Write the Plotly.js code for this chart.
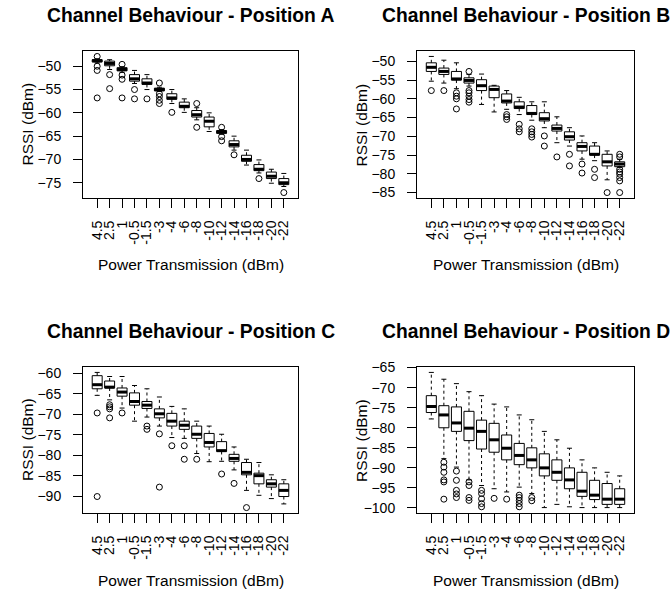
<!DOCTYPE html>
<html>
<head>
<meta charset="utf-8">
<script src="https://cdn.plot.ly/plotly-3.0.1.min.js"></script>
<style>html,body{margin:0;padding:0;background:#fff;}#chart{width:670px;height:593px;}</style>
</head>
<body>
<div id="chart"></div>
<script>
// Power transmission levels (dBm), categories on the x axis
const categories = ["4.5","2.5","1","-0.5","-1.5","-3","-4","-6","-8","-10","-12","-14","-16","-18","-20","-22"];
const panelTitles = ["Channel Behaviour - Position A","Channel Behaviour - Position B","Channel Behaviour - Position C","Channel Behaviour - Position D"];

// Position A
const A_q1  = [-49.1,-49.9,-51.0,-53.2,-53.9,-55.3,-57.1,-58.9,-60.9,-63.0,-64.4,-67.3,-70.4,-72.4,-74.1,-75.4];
const A_med = [-48.8,-49.4,-50.7,-52.7,-53.6,-55.0,-56.8,-58.6,-60.4,-61.8,-64.1,-66.8,-70.0,-72.1,-73.6,-75.0];
const A_q3  = [-48.6,-48.9,-50.3,-51.8,-52.7,-54.7,-55.9,-57.7,-59.5,-60.9,-63.8,-66.0,-69.1,-71.1,-72.7,-74.1];
const A_lo  = [-49.3,-50.7,-51.3,-53.7,-55.0,-55.4,-58.0,-59.9,-61.5,-64.0,-64.6,-68.0,-71.2,-72.9,-75.1,-75.8];
const A_hi  = [-48.4,-48.6,-50.1,-50.9,-51.8,-54.5,-55.0,-57.0,-58.9,-60.0,-63.6,-65.0,-68.0,-70.1,-72.1,-73.0];
const A_out = [[-47.9,-50.0,-50.9,-56.8],[-51.8,-54.8],[-49.6,-51.9,-52.8,-56.8],[-55.0,-57.0],[-57.0],
               [-53.6,-55.9,-56.5,-57.3,-58.0],[-59.9],[],[-58.0,-63.1],[],[-63.1,-65.1,-66.0],[-69.0],[],[-74.1],[],[-77.1]];

// Position B
const B_q1  = [-52.7,-53.5,-55.0,-55.8,-57.8,-59.7,-61.1,-62.6,-64.2,-65.9,-68.6,-71.0,-73.9,-75.0,-77.9,-78.1];
const B_med = [-51.6,-52.7,-54.7,-55.1,-56.5,-57.5,-60.6,-62.2,-63.9,-65.3,-67.9,-70.1,-72.7,-74.8,-76.8,-77.4];
const B_q3  = [-50.4,-51.8,-52.7,-54.4,-54.9,-56.6,-58.7,-60.8,-61.8,-63.7,-67.0,-68.8,-71.7,-72.6,-74.8,-76.8];
const B_lo  = [-55.3,-55.8,-57.3,-56.6,-61.5,-63.5,-62.8,-64.2,-65.7,-67.7,-71.7,-72.6,-76.1,-76.5,-81.6,-78.3];
const B_hi  = [-48.7,-49.7,-50.4,-53.5,-53.4,-56.4,-57.8,-59.6,-60.8,-60.8,-64.8,-67.7,-69.9,-71.7,-73.9,-76.1];
const B_out = [[-57.8],[-57.8],[-58.4,-59.3,-60.0,-62.7],[-52.7,-57.8,-58.4,-59.3,-60.2,-60.9],[],[],
               [-64.2,-64.8,-65.5],[-66.8,-68.0,-68.8],[-68.0,-68.8,-69.5,-70.2],[-69.9,-72.6],[-75.5],
               [-74.8,-77.9],[-77.4,-79.8],[-78.8,-81.0],[-85.0],[-74.8,-75.5,-78.8,-79.5,-80.1,-81.0,-81.9,-85.0]];

// Position C
const C_q1  = [-63.8,-63.6,-65.6,-67.8,-68.6,-70.9,-72.9,-73.7,-75.9,-78.0,-79.1,-81.5,-84.8,-87.0,-87.8,-90.1];
const C_med = [-62.8,-63.4,-64.6,-66.9,-67.8,-69.9,-71.7,-72.7,-74.9,-76.9,-78.9,-80.8,-84.2,-85.0,-87.0,-88.6];
const C_q3  = [-60.6,-61.9,-63.6,-64.8,-66.9,-68.7,-69.8,-71.7,-72.9,-74.7,-76.7,-79.8,-81.8,-84.4,-86.0,-87.0];
const C_lo  = [-65.4,-66.5,-68.5,-71.7,-70.7,-72.9,-75.7,-75.9,-79.6,-81.6,-81.5,-83.6,-88.6,-89.8,-90.6,-91.9];
const C_hi  = [-59.8,-60.8,-60.8,-63.0,-63.8,-65.8,-68.1,-68.7,-71.7,-72.9,-74.9,-78.0,-81.0,-81.8,-84.8,-86.0];
const C_out = [[-69.7,-90.1],[-67.7,-68.2,-68.7,-70.9],[-69.7],[],[-72.9,-73.7],[-74.8,-87.8],[-77.7],
               [-77.7,-81.0],[-81.0],[],[-84.6],[-86.9],[-92.8],[],[],[]];

// Position D
const D_q1  = [-76.2,-80.0,-80.9,-83.2,-85.3,-86.1,-88.0,-89.2,-90.0,-92.0,-93.1,-95.2,-97.1,-97.9,-99.1,-99.1];
const D_med = [-74.7,-76.8,-78.8,-80.1,-80.9,-83.0,-85.1,-86.9,-88.0,-90.0,-91.1,-93.0,-95.8,-96.8,-97.8,-97.8];
const D_q3  = [-72.0,-74.5,-74.8,-75.9,-78.1,-78.9,-81.8,-83.9,-85.0,-86.5,-88.0,-90.0,-91.1,-93.1,-93.9,-95.2];
const D_lo  = [-77.8,-87.7,-89.8,-93.0,-94.4,-95.2,-96.0,-94.8,-96.4,-99.9,-99.1,-99.7,-99.9,-99.9,-99.9,-99.9];
const D_hi  = [-66.2,-67.9,-69.0,-71.0,-72.0,-74.1,-74.8,-76.8,-78.0,-80.9,-83.0,-85.1,-88.0,-90.0,-91.1,-92.0];
const D_out = [[],[-88.6,-89.8,-91.1,-93.0,-93.5,-97.8],[-90.8,-93.1,-95.6,-96.5,-97.4],[-93.5,-94.4,-97.4,-98.1],
               [-95.6,-96.4,-97.7,-98.9,-99.7],[-97.6],[-97.8],[-96.8,-97.4,-98.1,-98.9,-99.7],[-97.4,-98.2],
               [],[],[],[],[],[],[]];

const panels = [
  {q1:A_q1, med:A_med, q3:A_q3, lo:A_lo, hi:A_hi, out:A_out},
  {q1:B_q1, med:B_med, q3:B_q3, lo:B_lo, hi:B_hi, out:B_out},
  {q1:C_q1, med:C_med, q3:C_q3, lo:C_lo, hi:C_hi, out:C_out},
  {q1:D_q1, med:D_med, q3:D_q3, lo:D_lo, hi:D_hi, out:D_out}
];

const W = 670, H = 593;
// plot-region pixel boxes [left, right, top, bottom]
const boxes = [[83,298,51,198],[417,634,51,198],[83,298,367,513],[417,634,367,513]];
const FONT = "Liberation Sans, Arial, sans-serif";

const traces = [];
const layout = {
  width: W, height: H, margin:{l:0,r:0,t:0,b:0},
  paper_bgcolor:"#fff", plot_bgcolor:"#fff", showlegend:false,
  font:{family:FONT, color:"#000", size:14},
  annotations: []
};

const idx = categories.map((c,i)=>i+1);

panels.forEach((p, k) => {
  const n = k + 1;
  const xa = n === 1 ? "x" : "x" + n;
  const ya = n === 1 ? "y" : "y" + n;
  const b = boxes[k];

  const wx = [], wy = [], sx = [], sy = [], mx = [], my = [];
  idx.forEach((x, i) => {
    wx.push(x, x, null, x, x, null);
    wy.push(p.q3[i], p.hi[i], null, p.q1[i], p.lo[i], null);
    sx.push(x-0.2, x+0.2, null, x-0.2, x+0.2, null);
    sy.push(p.hi[i], p.hi[i], null, p.lo[i], p.lo[i], null);
    mx.push(x-0.4, x+0.4, null);
    my.push(p.med[i], p.med[i], null);
  });
  // dashed whiskers
  traces.push({type:"scatter", mode:"lines", x:wx, y:wy, xaxis:xa, yaxis:ya,
    line:{color:"#000", width:1, dash:"3px,3px"}, hoverinfo:"skip", connectgaps:false});
  // staples
  traces.push({type:"scatter", mode:"lines", x:sx, y:sy, xaxis:xa, yaxis:ya,
    line:{color:"#000", width:1}, hoverinfo:"skip", connectgaps:false});
  // boxes
  traces.push({type:"box", x:idx, q1:p.q1, median:p.med, q3:p.q3,
    lowerfence:p.q1, upperfence:p.q3, width:0.8, whiskerwidth:0,
    fillcolor:"#fff", line:{color:"#000", width:1}, boxpoints:false,
    xaxis:xa, yaxis:ya, hoverinfo:"skip"});
  // thick medians
  traces.push({type:"scatter", mode:"lines", x:mx, y:my, xaxis:xa, yaxis:ya,
    line:{color:"#000", width:3}, hoverinfo:"skip", connectgaps:false});
  // outliers
  const ox = [], oy = [];
  p.out.forEach((arr, i) => arr.forEach(v => { ox.push(i+1); oy.push(v); }));
  traces.push({type:"scatter", mode:"markers", x:ox, y:oy, xaxis:xa, yaxis:ya,
    marker:{symbol:"circle-open", size:6, color:"#000", line:{color:"#000", width:1}}, hoverinfo:"skip"});

  // axis ranges as R does (4% extension)
  let all = [].concat(p.lo, p.hi);
  p.out.forEach(a => all = all.concat(a));
  const mn = Math.min(...all), mxv = Math.max(...all), r = mxv - mn;
  const nCat = categories.length;
  const common = {showline:true, mirror:true, linecolor:"#000", linewidth:1,
    ticks:"outside", ticklen:9, tickwidth:1, tickcolor:"#000",
    showgrid:false, zeroline:false, fixedrange:true, automargin:false,
    tickfont:{family:FONT, size:14, color:"#000"}};
  layout[n === 1 ? "xaxis" : "xaxis" + n] = Object.assign({}, common, {
    domain:[b[0]/W, b[1]/W], anchor:ya,
    range:[0.5 - 0.04*nCat, nCat + 0.5 + 0.04*nCat],
    tickmode:"array", tickvals:idx, ticktext:categories, tickangle:-90,
    ticklabelstandoff:7
  });
  layout[n === 1 ? "yaxis" : "yaxis" + n] = Object.assign({}, common, {
    domain:[1 - b[3]/H, 1 - b[2]/H], anchor:xa,
    range:[mn - 0.04*r, mxv + 0.04*r],
    tickmode:"linear", tick0:0, dtick:5, ticklabelstandoff:9
  });

  const cx = (b[0] + b[1]) / 2 / W;
  layout.annotations.push({text:"<b>" + panelTitles[k] + "</b>", xref:"paper", yref:"paper",
    x:cx, y:1 - (b[2] - 35)/H, xanchor:"center", yanchor:"middle", showarrow:false,
    font:{family:FONT, size:19.3, color:"#000"}});
  layout.annotations.push({text:"Power Transmission (dBm)", xref:"paper", yref:"paper",
    x:cx, y:1 - (b[3] + 67)/H, xanchor:"center", yanchor:"middle", showarrow:false,
    font:{family:FONT, size:15.5, color:"#000"}});
  layout.annotations.push({text:"RSSI (dBm)", xref:"paper", yref:"paper",
    x:(b[0] - 56)/W, y:1 - ((b[2] + b[3]) / 2)/H, xanchor:"center", yanchor:"middle",
    textangle:-90, showarrow:false, font:{family:FONT, size:15.5, color:"#000"}});
});

Plotly.newPlot("chart", traces, layout, {staticPlot:true, displayModeBar:false});
</script>
</body>
</html>
